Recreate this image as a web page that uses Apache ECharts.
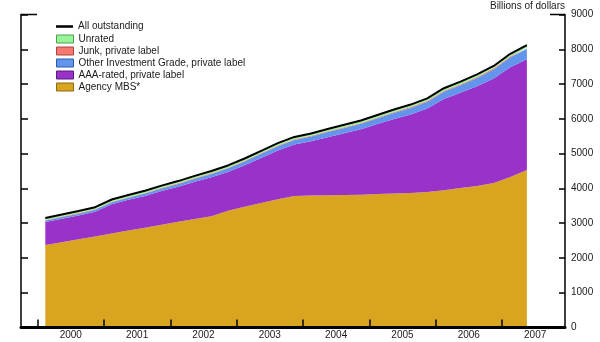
<!DOCTYPE html>
<html>
<head>
<meta charset="utf-8">
<script src="https://cdn.jsdelivr.net/npm/echarts@6/dist/echarts.min.js"></script>
<style>
html,body{margin:0;padding:0;background:#fff;}
#chart{width:600px;height:342px;}
</style>
</head>
<body>
<div id="chart"></div>
<script>
// Quarterly observations, 2000Q1 .. 2007Q2
var quarters = ['2000Q1','2000Q2','2000Q3','2000Q4','2001Q1','2001Q2','2001Q3','2001Q4',
  '2002Q1','2002Q2','2002Q3','2002Q4','2003Q1','2003Q2','2003Q3','2003Q4',
  '2004Q1','2004Q2','2004Q3','2004Q4','2005Q1','2005Q2','2005Q3','2005Q4',
  '2006Q1','2006Q2','2006Q3','2006Q4','2007Q1','2007Q2'];

var agencyMBS = [2370,2450,2535,2620,2705,2790,2870,2955,3040,3120,3200,3360,3470,3580,3685,3780,
  3795,3805,3810,3820,3840,3850,3865,3895,3950,4010,4070,4155,4330,4530];
var aaaPrivate = [660,676,687,708,839,880,912,969,1006,1068,1120,1112,1194,1296,1403,1480,
  1557,1669,1776,1878,2010,2148,2261,2399,2622,2740,2865,3005,3155,3180];
var otherIGPrivate = [45,49,52,55,58,62,68,76,83,90,97,105,111,119,125,133,
  139,147,153,161,167,178,187,197,207,217,240,262,287,305];
var junkPrivate = [15,15,15,16,16,16,17,17,17,18,18,18,19,19,20,20,
  21,21,22,22,23,24,25,26,27,28,29,30,30,30];
var unrated = [60,60,61,61,62,62,63,63,64,64,65,65,66,66,67,67,
  68,68,69,69,70,70,72,73,74,75,76,78,80,85];
var allOutstanding = [3150,3250,3350,3460,3680,3810,3930,4080,4210,4360,4500,4660,4860,5080,5300,5480,
  5580,5710,5830,5950,6110,6270,6410,6590,6880,7070,7280,7520,7870,8120];

var yearTicks = [2000,2001,2002,2003,2004,2005,2006,2007];
var yearLabels = ['2000','2001','2002','2003','2004','2005','2006','2007'];
var yTicks = [0,1000,2000,3000,4000,5000,6000,7000,8000,9000];

var names = {
  all:'All outstanding', un:'Unrated', junk:'Junk, private label',
  ig:'Other Investment Grade, private label', aaa:'AAA-rated, private label', ag:'Agency MBS*'
};
var colors = {ag:'#D9A520', aaa:'#9932C8', ig:'#6495ED', junk:'#F47A70', un:'#98F498'};
var borders = {ag:'#8a6a10', aaa:'#5a1a80', ig:'#2a5ab0', junk:'#b04040', un:'#50a050'};

function area(key, arr){
  return {
    name: names[key], type:'line', stack:'total', data: arr,
    xAxisIndex:1, yAxisIndex:2, z:1,
    symbol:'none', lineStyle:{width:0}, itemStyle:{color:colors[key]},
    areaStyle:{color:colors[key], opacity:1}, silent:true, animation:false
  };
}

var chart = echarts.init(document.getElementById('chart'), null, {renderer:'canvas'});
var txt = '#1a1a1a';
var font = 'Liberation Sans, Arial, sans-serif';
// grid 0: frame (axes 1999.75 .. 2007.95); grid 1: data span (mid 2000Q1 .. mid 2007Q2)
chart.setOption({
  backgroundColor:'#fff',
  animation:false,
  textStyle:{fontFamily:font},
  title:{text:'Billions of dollars', right:35, top:1, padding:0,
    textStyle:{fontSize:10, fontWeight:'normal', color:txt, fontFamily:font}},
  grid:[
    {left:21, right:35, top:14.5, bottom:14.5, containLabel:false},
    {left:45.3, right:73.1, top:14.5, bottom:14.5, containLabel:false}
  ],
  graphic:[
    {type:'line', shape:{x1:21, y1:14.5, x2:37, y2:14.5}, style:{stroke:'#000', lineWidth:1.5}, z:20, silent:true},
    {type:'line', shape:{x1:550, y1:14.5, x2:565, y2:14.5}, style:{stroke:'#000', lineWidth:1.5}, z:20, silent:true}
  ],
  legend:[
    {data:[{name:names.all, icon:'rect', itemStyle:{color:'#000'}}],
     orient:'vertical', left:56, top:21.5, itemWidth:17, itemHeight:2.5, padding:0,
     textStyle:{fontSize:10, color:txt, fontFamily:font}, selectedMode:false},
    {data:['un','junk','ig','aaa','ag'].map(function(k){
        return {name:names[k], icon:'rect', itemStyle:{color:colors[k], borderColor:borders[k], borderWidth:1}};
      }),
     orient:'vertical', left:56, top:34, itemWidth:17, itemHeight:8, itemGap:2, padding:0,
     textStyle:{fontSize:10, color:txt, fontFamily:font}, selectedMode:false}
  ],
  xAxis:[
    {type:'value', gridIndex:0, min:1999.75, max:2007.95, z:10,
     axisLine:{show:true, lineStyle:{color:'#000', width:3}},
     axisTick:{show:true, inside:true, length:8, lineStyle:{color:'#000', width:1.5}, customValues:yearTicks},
     axisLabel:{show:true, margin:3, fontSize:10, color:txt, fontFamily:font,
       customValues: yearTicks.map(function(y){ return y + 0.5; }),
       formatter:function(v){ return yearLabels[yearTicks.indexOf(Math.floor(v))]; }},
     splitLine:{show:false}},
    {type:'category', gridIndex:1, data:quarters, boundaryGap:false, show:false}
  ],
  yAxis:[
    {type:'value', gridIndex:0, position:'right', min:0, max:9000, interval:1000, z:10,
     axisLine:{show:true, lineStyle:{color:'#000', width:1.5}},
     axisTick:{show:true, inside:true, length:6, lineStyle:{color:'#000', width:1.5}},
     axisLabel:{show:true, margin:6, fontSize:10, color:txt, fontFamily:font,
       formatter:function(v){ return String(yTicks[yTicks.indexOf(v)]); }},
     splitLine:{show:false}},
    {type:'value', gridIndex:0, position:'left', min:0, max:9000, interval:1000, z:10,
     axisLine:{show:true, lineStyle:{color:'#000', width:1.5}},
     axisTick:{show:true, inside:true, length:7, lineStyle:{color:'#000', width:1.5}},
     axisLabel:{show:false}, splitLine:{show:false}},
    {type:'value', gridIndex:1, min:0, max:9000, show:false, splitLine:{show:false}}
  ],
  series:[
    area('ag', agencyMBS),
    area('aaa', aaaPrivate),
    area('ig', otherIGPrivate),
    area('junk', junkPrivate),
    area('un', unrated),
    {name:names.all, type:'line', data:allOutstanding, xAxisIndex:1, yAxisIndex:2, symbol:'none',
     lineStyle:{color:'#000', width:2}, itemStyle:{color:'#000'}, z:5, silent:true}
  ]
});
</script>
</body>
</html>
